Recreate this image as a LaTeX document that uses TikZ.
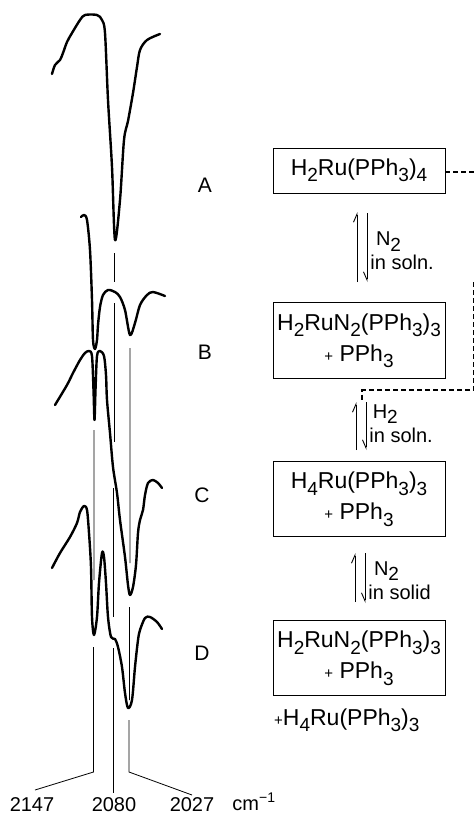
\documentclass[tikz,border=0pt]{standalone}
\usepackage{fontspec}
\setmainfont{Liberation Sans}
\usetikzlibrary{positioning, arrows.meta}
\newcommand\lo[1]{\raisebox{-0.28em}{\fontsize{19}{19}\selectfont #1}}
\newcommand\pl{{\fontsize{15}{15}\selectfont +}}

\begin{document}
\begin{tikzpicture}[x=1pt, y=-1pt, font=\fontsize{23}{31}\selectfont]
		% 定义样式
		\tikzstyle{cmpd} = [rectangle, draw, line width=0.9pt, minimum width=172pt, align=center, inner sep=1pt]
		\tikzstyle{spec} = [line width=2.4pt, line cap=round, line join=round, smooth, tension=0.5]
		\tikzstyle{ref} = [line width=0.8pt]
		\tikzstyle{eqtxt} = [right, align=left, inner sep=3pt, font=\fontsize{20}{22}\selectfont]
		\tikzstyle{upharp} = [line width=0.9pt, -{Straight Barb[left, length=8pt, width=7pt]}]
		\tikzstyle{dnharp} = [line width=0.9pt, -{Straight Barb[right, length=8pt, width=7pt]}]
		\tikzstyle{link} = [line width=1.2pt, dash pattern=on 5pt off 3pt]
		
		\useasboundingbox (0,0) rectangle (475,816);
		
		% 光谱
		\draw[spec] plot coordinates {(52,74) (55,65) (60,60) (63,53) (67,42) (72,33) (80,20) (85,15) (97,15) (102,20) (105,33) (108,100) (112,167) (115,240) (120,200) (124,140) (128,121) (133,93) (137,67) (140,50) (147,40) (160,34)};
		\draw[spec] plot coordinates {(81,217) (84,215) (87,220) (90,250) (92,300) (93,340) (95,349) (97,340) (98,325) (100,307) (103,295) (108,290) (115,292) (120,297) (125,310) (130,335) (135,323) (140,305) (147,295) (153,292) (165,296)};
		\draw[spec] plot coordinates {(55,405) (67,385) (73,373) (80,360) (85,353) (89,351) (92,356) (93.5,390) (94.5,420) (95.5,390) (97,356) (100,351) (104,356) (106,375) (107,400) (110,433) (113,467) (117,493) (120,520) (125,557) (128,585) (130,595) (133,587) (136,565) (138,533) (140,520) (143,510) (145,495) (148,483) (153,480) (158,483) (162,488)};
		\draw[spec] plot coordinates {(52,568) (60,553) (70,537) (77,523) (80,512) (84,506) (87,510) (89,533) (91,567) (92,617) (94,635) (97,617) (99,583) (102,553) (104,557) (106,583) (108,617) (111,637) (115,639) (118,647) (122,667) (125,693) (128,708) (132,700) (135,667) (138,640) (140,630) (145,618) (150,617) (157,622) (162,629)};
		
		% 参考线
		\draw[ref] (94,430) -- (94,580) (93.5,647) -- (93.5,772) -- (35,790);
		\draw[ref] (114,253) -- (114,282) (114,303) -- (114,442) (113.5,488) -- (113.5,617) (113,648) -- (113,793);
		\draw[ref] (130,348) -- (130,563) (129.5,607) -- (129.5,700) (129,720) -- (129,772) -- (192,795);
		
		\node (n2147) at (32,805) {\fontsize{20}{20}\selectfont 2147};
		\node (n2080) at (114,805) {\fontsize{20}{20}\selectfont 2080};
		\node (n2027) at (192,805) {\fontsize{20}{20}\selectfont 2027};
		\node (unit) at (254,802) {\fontsize{20}{20}\selectfont cm\textsuperscript{−1}};
		
		\node (labA) at (205,185) {\fontsize{21}{21}\selectfont A};
		\node (labB) at (205,352) {\fontsize{21}{21}\selectfont B};
		\node (labC) at (202,495) {\fontsize{21}{21}\selectfont C};
		\node (labD) at (202,653) {\fontsize{21}{21}\selectfont D};
		
		%绘制节点
		\node [cmpd, minimum height=45pt] (boxA) at (359,170.5) {H\lo{2}Ru(PPh\lo{3})\lo{4}};
		\node [cmpd, minimum height=76pt, below=109pt of boxA] (boxB) {H\lo{2}RuN\lo{2}(PPh\lo{3})\lo{3}\\\pl\ PPh\lo{3}\hspace{18pt}};
		\node [cmpd, minimum height=75pt, below=82pt of boxB] (boxC) {H\lo{4}Ru(PPh\lo{3})\lo{3}\hspace{10pt}\\\pl\ PPh\lo{3}\hspace{10pt}};
		\node [cmpd, minimum height=75pt, below=83pt of boxC] (boxD) {H\lo{2}RuN\lo{2}(PPh\lo{3})\lo{3}\\\pl\ PPh\lo{3}\hspace{18pt}};
		\node [anchor=west, inner sep=0] (extra) at (274,720) {\pl H\lo{4}Ru(PPh\lo{3})\lo{3}};
		
		% 平衡箭头
		\coordinate (ab1) at (357,282);
		\coordinate (ab2) at (357,212);
		\coordinate (ab3) at (367,213);
		\coordinate (ab4) at (367,282);
		\draw[upharp] (ab1) -- (ab2);
		\draw[dnharp] (ab3) -- node[eqtxt, pos=0.55] {\ N\lo{2}\\[2pt]in soln.} (ab4);
		
		\coordinate (bc1) at (356,450);
		\coordinate (bc2) at (356,402);
		\coordinate (bc3) at (366,402);
		\coordinate (bc4) at (366,450);
		\draw[upharp] (bc1) -- (bc2);
		\draw[dnharp] (bc3) -- node[eqtxt, pos=0.45] {\,H\lo{2}\\[2pt]in soln.} (bc4);
		
		\coordinate (cd1) at (355,602);
		\coordinate (cd2) at (355,553);
		\coordinate (cd3) at (365,553);
		\coordinate (cd4) at (365,603);
		\draw[upharp] (cd1) -- (cd2);
		\draw[dnharp] (cd3) -- node[eqtxt, pos=0.55] {\ N\lo{2}\\[2pt]in solid} (cd4);
		
		% 虚线
		\coordinate (edge) at (475,172);
		\coordinate (side) at (473.5,282);
		\coordinate (turn) at (362,390);
		\coordinate (drop) at (362,401);
		\draw[link] (boxA.east|-edge) -- (edge);
		\draw[link] (side) |- (turn) -- (drop);
\end{tikzpicture}
\end{document}
